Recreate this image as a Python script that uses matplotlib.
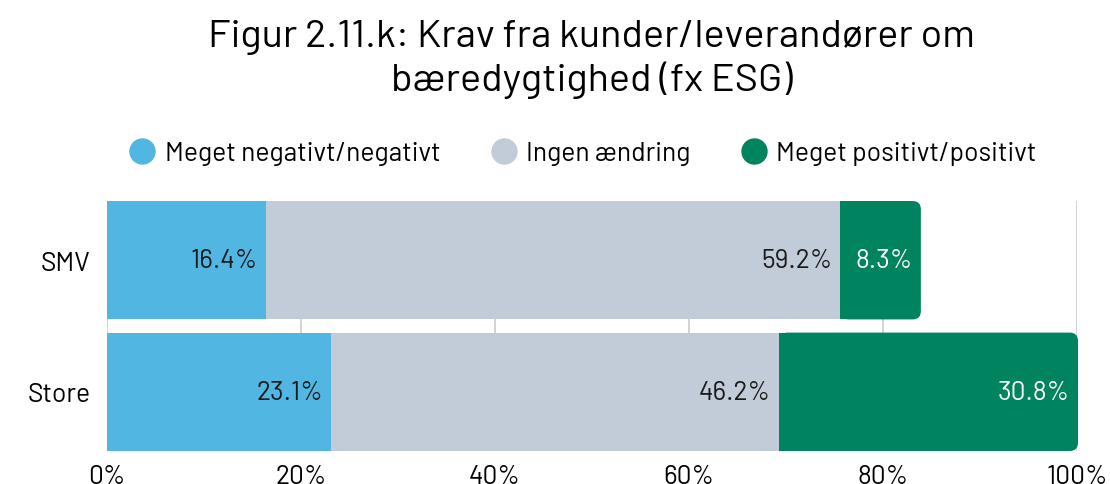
import matplotlib
matplotlib.use("Agg")
import matplotlib.pyplot as plt
from matplotlib.patches import FancyBboxPatch
from matplotlib.lines import Line2D

plt.rcParams['font.family'] = ['Barlow', 'DejaVu Sans']

groups = ["SMV", "Store"]
series = ["Meget negativt/negativt", "Ingen ændring", "Meget positivt/positivt"]
negativ = [16.4, 23.1]
ingen = [59.2, 46.2]
positiv = [8.3, 30.8]
colors = ["#52b6e2", "#c2ccd9", "#00845f"]
label_colors = ["#1a1a1a", "#1a1a1a", "white"]
xticks = [0, 20, 40, 60, 80, 100]

fig = plt.figure(figsize=(11.1, 4.85), dpi=100)
ax = fig.add_axes([0.0964, 0.068, 0.8739, 0.5155])

ypos = list(range(len(groups)))
bar_h = 0.9
left = [0.0] * len(groups)
for vals, col, lcol in zip([negativ, ingen, positiv], colors, label_colors):
    bars = ax.barh(ypos, vals, left=left, height=bar_h, color=col, zorder=2)
    for b, v in zip(bars, vals):
        ax.annotate(f"{v:.1f}%", (b.get_x() + b.get_width(), b.get_y() + b.get_height() / 2),
                    xytext=(-6, 0), textcoords="offset points", ha="right", va="center",
                    fontsize=19, color=lcol, zorder=4, annotation_clip=False)
    left = [l + v for l, v in zip(left, vals)]

# round the right end of the last segment
r = 0.85
asp = (1.0 / 131) / (100.0 / 970)
for b in bars:
    x0, y0, w, h = b.get_x(), b.get_y(), b.get_width(), b.get_height()
    b.set_width(w - r)
    ax.add_patch(FancyBboxPatch((x0, y0), w, h, boxstyle=f"round,pad=0,rounding_size={r}",
                                mutation_aspect=asp, facecolor=b.get_facecolor(),
                                edgecolor="none", zorder=2, clip_on=False))

ax.set_xlim(0, 100)
ax.set_ylim(len(groups) - 1 + bar_h / 2, -bar_h / 2)
ax.set_yticks(ypos, groups, fontsize=19)
ax.set_xticks(xticks, [f"{t}%" for t in xticks], fontsize=19)
ax.tick_params(length=0)
ax.tick_params(axis="y", pad=12)
ax.tick_params(axis="x", pad=9)
for s in ax.spines.values():
    s.set_visible(False)
ax.grid(axis="x", color="#cccccc", linewidth=1.2, zorder=0)
ax.set_axisbelow(True)

handles = [Line2D([], [], marker="o", linestyle="none", markersize=18, markerfacecolor=c,
                  markeredgecolor=c) for c in colors]
fig.legend(handles, series, loc="center", bbox_to_anchor=(0.524, 0.682), ncol=3, frameon=False,
           fontsize=19, handletextpad=0.25, columnspacing=1.8, handlelength=1.2)

fig.text(0.533, 0.877, "Figur 2.11.k: Krav fra kunder/leverandører om\nbæredygtighed (fx ESG)",
         ha="center", va="center", fontsize=28.5, linespacing=1.2)

fig.savefig("out.png")
